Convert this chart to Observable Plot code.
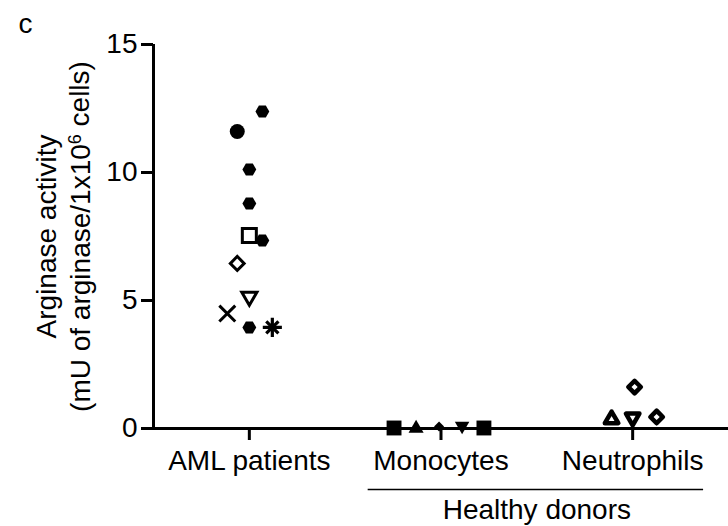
<!DOCTYPE html>
<html>
<head>
<meta charset="utf-8">
<script src="https://cdn.jsdelivr.net/npm/d3@7"></script>
<script src="https://cdn.jsdelivr.net/npm/@observablehq/plot@0.6"></script>
<style>
  html, body { margin: 0; padding: 0; background: white; overflow: hidden; }
  #chart svg { display: block; }
</style>
</head>
<body>
<div id="chart"></div>
<script>
// ---- Data ----
const categories = ["AML patients", "Monocytes", "Neutrophils"];
const yTicks = [0, 5, 10, 15];
const panelLabel = "c";
const yTitleLine1 = "Arginase activity";
const yTitleLine2 = "(mU of arginase/1x10⁶ cells)";
const groupLabel = "Healthy donors";

// AML patients
const amlValues  = [12.38, 11.6, 10.12, 8.79, 7.54, 7.34, 6.45, 5.15, 4.49, 3.95, 3.95];
const amlOffsets = [0.068, -0.063, 0, 0, 0, 0.068, -0.063, 0, -0.115, 0, 0.12];
const amlMarkers = ["hexagon", "circle", "hexagon", "hexagon", "openSquare", "hexagon",
                    "openDiamond", "openTriangleDown", "cross", "hexagon", "asterisk"];

// Healthy donors: monocytes
const monoValues  = [0.02, 0.0, 0.08, 0.1, 0.02];
const monoOffsets = [-0.245, -0.13, -0.01, 0.11, 0.224];
const monoMarkers = ["filledSquare", "filledTriangle", "smallDiamond", "filledTriangleDown", "filledSquare"];

// Healthy donors: neutrophils
const neutValues  = [0.36, 0.43, 0.45, 1.62];
const neutOffsets = [-0.11, 0, 0.125, 0.01];
const neutMarkers = ["thickTriangle", "thickTriangleDown", "thickDiamond", "thickDiamond"];

// ---- Build table ----
function rowsFor(groupIndex, values, offsets, markers) {
  return values.map((v, i) => ({group: categories[groupIndex], x: groupIndex + offsets[i], y: v, marker: markers[i]}));
}
const points = [
  ...rowsFor(0, amlValues, amlOffsets, amlMarkers),
  ...rowsFor(1, monoValues, monoOffsets, monoMarkers),
  ...rowsFor(2, neutValues, neutOffsets, neutMarkers)
];

// ---- Marker styles ----
const markerStyles = {
  hexagon: [{symbol: "hexagon", r: 6, rotate: 90, fill: "black"}],
  circle: [{symbol: "circle", r: 7.5, fill: "black"}],
  openSquare: [{symbol: "square", r: 7.9, fill: "white", stroke: "black", strokeWidth: 3}],
  openDiamond: [{symbol: "square", r: 5.5, rotate: 45, fill: "white", stroke: "black", strokeWidth: 3}],
  openTriangleDown: [{symbol: "triangle", r: 5.6, rotate: 180, fill: "white", stroke: "black", strokeWidth: 3}],
  cross: [{symbol: "times", r: 7.3, stroke: "black", strokeWidth: 3}],
  asterisk: [
    {symbol: "plus", r: 6.2, stroke: "black", strokeWidth: 3.2},
    {symbol: "times", r: 5.6, stroke: "black", strokeWidth: 3.2}
  ],
  filledSquare: [{symbol: "square", r: 8.4, fill: "black"}],
  filledTriangle: [{symbol: "triangle", r: 5.6, fill: "black"}],
  filledTriangleDown: [{symbol: "triangle", r: 5.4, rotate: 180, fill: "black"}],
  smallDiamond: [{symbol: "square", r: 4, rotate: 45, fill: "black"}],
  thickTriangle: [{symbol: "triangle", r: 5, fill: "white", stroke: "black", strokeWidth: 4.5, strokeLinejoin: "round"}],
  thickTriangleDown: [{symbol: "triangle", r: 5, rotate: 180, fill: "white", stroke: "black", strokeWidth: 4.5, strokeLinejoin: "round"}],
  thickDiamond: [{symbol: "square", r: 5, rotate: 45, fill: "white", stroke: "black", strokeWidth: 4.5, strokeLinejoin: "round"}]
};

const dotMarks = [];
for (const [name, layers] of Object.entries(markerStyles)) {
  const subset = points.filter(d => d.marker === name);
  if (!subset.length) continue;
  for (const style of layers) {
    dotMarks.push(Plot.dot(subset, {x: "x", y: "y", ...style}));
  }
}

const chart = Plot.plot({
  width: 728,
  height: 526,
  marginLeft: 153,
  marginTop: 44,
  marginRight: 0,
  marginBottom: 98,
  x: {domain: [-0.5, 2.5], axis: null},
  y: {domain: [0, 15], axis: null},
  style: {fontFamily: "'Liberation Sans', Arial, Helvetica, sans-serif", fontSize: "28px", background: "white", color: "black"},
  marks: [
    Plot.axisY({ticks: yTicks, tickSize: 12, tickPadding: 4, strokeWidth: 3, fontSize: 28, label: null}),
    Plot.axisX({ticks: [0, 1, 2], tickFormat: i => categories[i], tickSize: 12, tickPadding: 10, strokeWidth: 3, fontSize: 28, label: null}),
    Plot.ruleX([-0.5], {y1: 0, y2: 15, strokeWidth: 3}),
    Plot.ruleY([0], {strokeWidth: 3}),
    Plot.text([panelLabel], {frameAnchor: "top-left", textAnchor: "middle", dx: -128, dy: -12, lineAnchor: "bottom", fontSize: 28}),
    Plot.text([yTitleLine1], {frameAnchor: "left", textAnchor: "middle", rotate: -90, dx: -98, lineAnchor: "bottom", fontSize: 28}),
    Plot.text([yTitleLine2], {frameAnchor: "left", textAnchor: "middle", rotate: -90, dx: -64, lineAnchor: "bottom", fontSize: 28}),
    Plot.ruleY([0], {x1: 0.62, x2: 2.37, dy: 61, strokeWidth: 1.5}),
    Plot.text([groupLabel], {x: 1.5, frameAnchor: "bottom", textAnchor: "middle", dy: 90, lineAnchor: "bottom", fontSize: 28}),
    ...dotMarks
  ]
});

// superscript for the exponent in the y title
d3.select(chart).selectAll("text").each(function() {
  const t = this.textContent;
  if (t.includes("⁶") && this.children.length === 0) {
    const [before, after] = t.split("⁶");
    const sel = d3.select(this);
    sel.text(null);
    sel.append("tspan").text(before);
    sel.append("tspan").attr("font-size", 18).attr("dy", "-0.45em").text("6");
    sel.append("tspan").attr("dy", "0.28em").text(after);
  }
});

document.getElementById("chart").appendChild(chart);
</script>
</body>
</html>
